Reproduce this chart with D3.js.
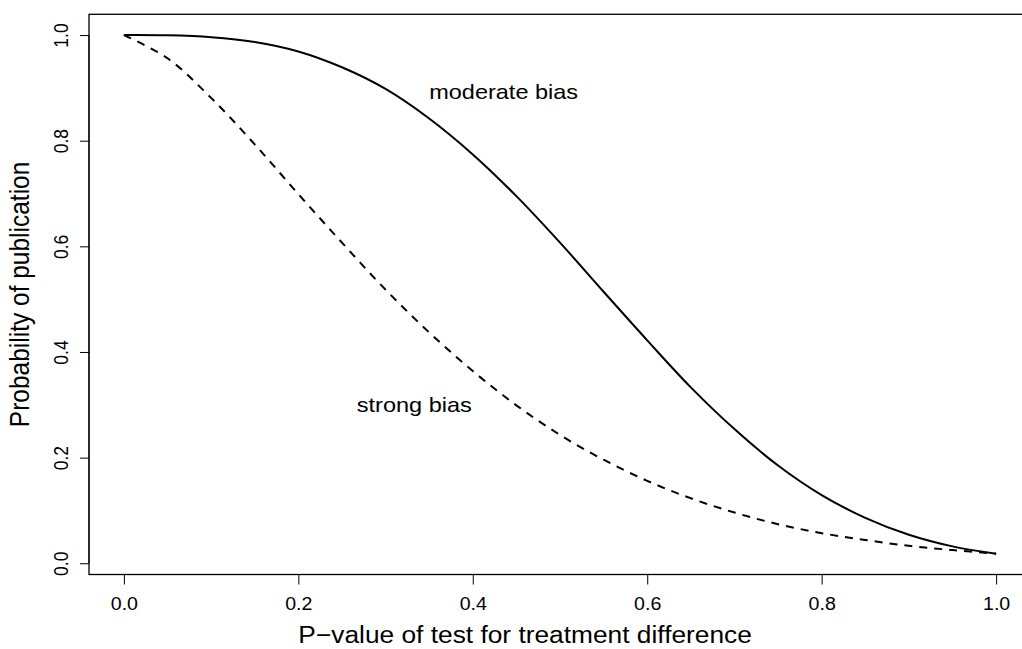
<!DOCTYPE html>
<html>
<head>
<meta charset="utf-8">
<script src="https://cdn.jsdelivr.net/npm/d3@7/dist/d3.min.js"></script>
<style>
  html, body { margin: 0; padding: 0; background: #fff; }
  svg { display: block; }
  text { font-family: "Liberation Sans", Arial, Helvetica, sans-serif; fill: #000; }
</style>
</head>
<body>
<svg id="chart" width="1022" height="649"></svg>
<script>
// P-values (x) and probability of publication
const pValues = [0.00, 0.05, 0.10, 0.15, 0.20, 0.25, 0.30, 0.35, 0.40, 0.45, 0.50,
                 0.55, 0.60, 0.65, 0.70, 0.75, 0.80, 0.85, 0.90, 0.95, 1.00];
const moderateBias = [1.000, 0.9995, 0.996, 0.987, 0.969, 0.939, 0.898, 0.842, 0.774, 0.695, 0.607,
                      0.514, 0.422, 0.333, 0.254, 0.185, 0.129, 0.086, 0.054, 0.032, 0.018];
const strongBias = [1.000, 0.956, 0.881, 0.793, 0.699, 0.607, 0.518, 0.437, 0.364, 0.299, 0.243,
                    0.196, 0.156, 0.123, 0.096, 0.074, 0.057, 0.044, 0.033, 0.025, 0.018];
const xTicks = [0.0, 0.2, 0.4, 0.6, 0.8, 1.0];
const yTicks = [0.0, 0.2, 0.4, 0.6, 0.8, 1.0];
const xLabel = "P\u2212value of test for treatment difference";
const yLabel = "Probability of publication";
const annotations = [
  { text: "moderate bias", x: 0.35, y: 0.895 },
  { text: "strong bias", x: 0.267, y: 0.302 }
];

const SX = 1.12; // horizontal glyph stretch seen in the reference
const box = { left: 89, right: 1031, top: 14.3, bottom: 574.5 };

const svg = d3.select("#chart");

const xPad = 0.04 * (d3.max(pValues) - d3.min(pValues));
const allY = moderateBias.concat(strongBias);
const yMin = d3.min(allY), yMax = d3.max(allY);
const yPad = 0.04 * (yMax - yMin);

const x = d3.scaleLinear()
  .domain([d3.min(pValues) - xPad, d3.max(pValues) + xPad])
  .range([box.left, box.right]);
const y = d3.scaleLinear()
  .domain([yMin - yPad, yMax + yPad])
  .range([box.bottom, box.top]);

// curves
const line = d3.line().curve(d3.curveCatmullRom.alpha(0.5));
const pts = vals => pValues.map((p, i) => [x(p), y(vals[i])]);

svg.append("path")
  .attr("d", line(pts(moderateBias)))
  .attr("fill", "none").attr("stroke", "#000").attr("stroke-width", 2)
  .attr("stroke-linejoin", "round");
svg.append("path")
  .attr("d", line(pts(strongBias)))
  .attr("fill", "none").attr("stroke", "#000").attr("stroke-width", 2)
  .attr("stroke-dasharray", "8,7");

// box
svg.append("rect")
  .attr("x", box.left).attr("y", box.top)
  .attr("width", box.right - box.left).attr("height", box.bottom - box.top)
  .attr("fill", "none").attr("stroke", "#000").attr("stroke-width", 1.3);

// x axis
const gx = svg.append("g").attr("transform", `translate(0,${box.bottom})`)
  .call(d3.axisBottom(x).tickValues(xTicks).tickSize(10).tickFormat(d3.format(".1f")));
gx.select(".domain").attr("d", `M${x(xTicks[0])},0H${x(xTicks[xTicks.length-1])}`).attr("stroke", "#000");
gx.selectAll(".tick line").attr("stroke", "#000");
gx.selectAll(".tick text").remove();
gx.selectAll(".tick").append("text")
  .attr("transform", `translate(0,35) scale(${SX},1)`)
  .attr("text-anchor", "middle")
  .attr("font-size", 17.5)
  .text(d => d3.format(".1f")(d));

// y axis
const gy = svg.append("g").attr("transform", `translate(${box.left},0)`)
  .call(d3.axisLeft(y).tickValues(yTicks).tickSize(9).tickFormat(d3.format(".1f")));
gy.select(".domain").attr("d", `M0,${y(yTicks[0])}V${y(yTicks[yTicks.length-1])}`).attr("stroke", "#000");
gy.selectAll(".tick line").attr("stroke", "#000");
gy.selectAll(".tick text").remove();
gy.selectAll(".tick").append("text")
  .attr("transform", `translate(-21,0) scale(${SX},1) rotate(-90)`)
  .attr("text-anchor", "middle")
  .attr("font-size", 17.5)
  .text(d => d3.format(".1f")(d));

// axis titles
svg.append("text")
  .attr("transform", `translate(${x(0.46)},${643}) scale(${SX},1)`)
  .attr("text-anchor", "middle")
  .attr("font-size", 23.5)
  .text(xLabel);
svg.append("text")
  .attr("transform", `translate(29,${(box.top + box.bottom) / 2}) scale(${SX},1) rotate(-90)`)
  .attr("text-anchor", "middle")
  .attr("font-size", 24.5)
  .text(yLabel);

// annotations
svg.selectAll("text.annot").data(annotations).enter().append("text")
  .attr("class", "annot")
  .attr("transform", d => `translate(${x(d.x)},${y(d.y) + 8}) scale(${SX},1)`)
  .attr("font-size", 21)
  .text(d => d.text);
</script>
</body>
</html>
